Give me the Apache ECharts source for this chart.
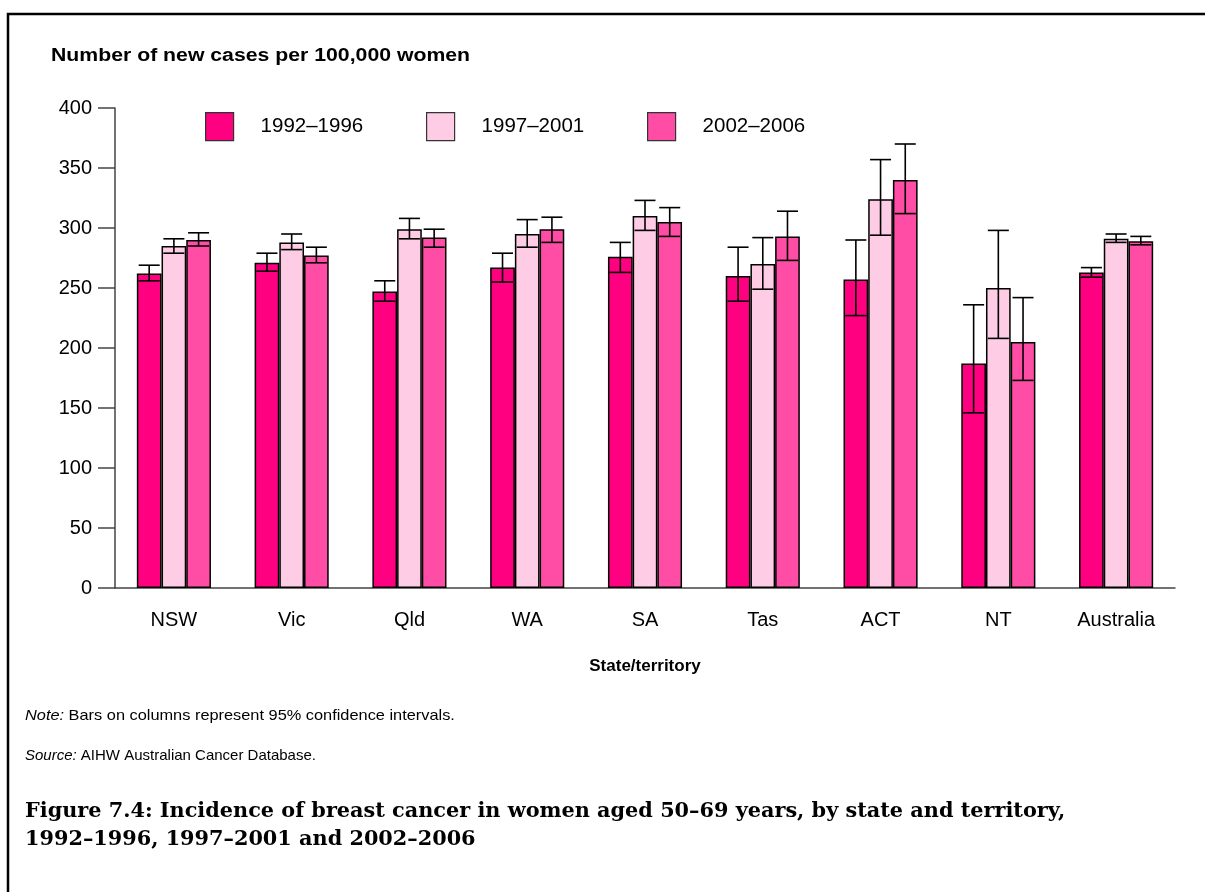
<!DOCTYPE html>
<html>
<head>
<meta charset="utf-8">
<script src="https://cdn.jsdelivr.net/npm/echarts@6/dist/echarts.min.js"></script>
<style>
  html, body { margin: 0; padding: 0; background: #fff; }
  #chart { width: 1205px; height: 892px; }
</style>
</head>
<body>
<div id="chart"></div>
<script>
// categories
var states = ['NSW', 'Vic', 'Qld', 'WA', 'SA', 'Tas', 'ACT', 'NT', 'Australia'];
var periods = ['1992\u20131996', '1997\u20132001', '2002\u20132006'];

// rates per 100,000 women
var rate1992 = [262, 271, 247, 267, 276, 260, 257, 187, 263];
var rate1997 = [285, 288, 299, 295, 310, 270, 324, 250, 291];
var rate2002 = [290, 277, 292, 299, 305, 293, 340, 205, 289];

// 95% confidence intervals
var low1992 = [256, 264, 239, 255, 263, 239, 227, 146, 259];
var high1992 = [269, 279, 256, 279, 288, 284, 290, 236, 267];
var low1997 = [279, 282, 291, 284, 298, 249, 294, 208, 288];
var high1997 = [291, 295, 308, 307, 323, 292, 357, 298, 295];
var low2002 = [285, 271, 284, 288, 293, 273, 312, 173, 286];
var high2002 = [296, 284, 299, 309, 317, 314, 370, 242, 293];

var yTicks = [0, 50, 100, 150, 200, 250, 300, 350, 400];

var colors = ['#ff0080', '#ffcce6', '#ff4da6'];
var barW = 24.7;

function ciData(low, high) {
  return low.map(function (l, i) { return [i, l, high[i]]; });
}

// error bar drawn as custom series, shifted to sit on its own bar
function errorBar(offset) {
  return function (params, api) {
    var lo = api.coord([api.value(0), api.value(1)]);
    var hi = api.coord([api.value(0), api.value(2)]);
    var x = lo[0] + offset;
    var cap = 10.5;
    var st = { stroke: '#000', lineWidth: 1.6 };
    return {
      type: 'group',
      children: [
        { type: 'line', shape: { x1: x, y1: lo[1], x2: x, y2: hi[1] }, style: st },
        { type: 'line', shape: { x1: x - cap, y1: lo[1], x2: x + cap, y2: lo[1] }, style: st },
        { type: 'line', shape: { x1: x - cap, y1: hi[1], x2: x + cap, y2: hi[1] }, style: st }
      ]
    };
  };
}

function barSeries(name, data, color) {
  return {
    name: name,
    type: 'bar',
    data: data,
    barWidth: barW,
    barGap: '0%',
    itemStyle: { color: color, borderColor: '#000', borderWidth: 1.5 },
    emphasis: { disabled: true }
  };
}

function ciSeries(low, high, offset) {
  return {
    type: 'custom',
    renderItem: errorBar(offset),
    data: ciData(low, high),
    encode: { x: 0, y: [1, 2] },
    z: 5,
    silent: true
  };
}

function legendItem(name, left) {
  return {
    data: [name],
    left: left,
    top: 112,
    padding: 0,
    itemWidth: 28,
    itemHeight: 28,
    icon: 'rect',
    selectedMode: false,
    itemStyle: { borderColor: '#333', borderWidth: 1.2 },
    textStyle: {
      fontFamily: 'Liberation Sans, Arial',
      fontSize: 20.5,
      color: '#000',
      padding: [0, 0, 0, 22]
    }
  };
}

var chart = echarts.init(document.getElementById('chart'));
chart.setOption({
  animation: false,
  backgroundColor: '#fff',
  grid: { left: 115, right: 30, top: 108, bottom: 304 },
  legend: [
    legendItem(periods[0], 205),
    legendItem(periods[1], 426),
    legendItem(periods[2], 647)
  ],
  xAxis: {
    type: 'category',
    data: states,
    axisLine: { lineStyle: { color: '#444', width: 1.5 } },
    axisTick: { alignWithLabel: true, length: 18, lineStyle: { color: '#444', width: 1.5 } },
    axisLabel: {
      margin: 22,
      fontFamily: 'Liberation Sans, Arial',
      fontSize: 20,
      color: '#000'
    },
    name: 'State/territory',
    nameLocation: 'middle',
    nameGap: 70,
    nameTextStyle: {
      fontFamily: 'Liberation Sans, Arial',
      fontSize: 17,
      fontWeight: 'bold',
      color: '#000'
    }
  },
  yAxis: {
    type: 'value',
    min: yTicks[0],
    max: yTicks[yTicks.length - 1],
    interval: yTicks[1] - yTicks[0],
    splitLine: { show: false },
    axisLine: { show: true, lineStyle: { color: '#444', width: 1.5 } },
    axisTick: { show: true, length: 17, lineStyle: { color: '#444', width: 1.5 } },
    axisLabel: {
      margin: 23,
      fontFamily: 'Liberation Sans, Arial',
      fontSize: 20,
      color: '#000'
    }
  },
  series: [
    barSeries(periods[0], rate1992, colors[0]),
    barSeries(periods[1], rate1997, colors[1]),
    barSeries(periods[2], rate2002, colors[2]),
    ciSeries(low1992, high1992, -barW),
    ciSeries(low1997, high1997, 0),
    ciSeries(low2002, high2002, barW)
  ],
  graphic: [
    {
      type: 'rect',
      shape: { x: 8, y: 14, width: 1400, height: 1000 },
      style: { fill: 'none', stroke: '#000', lineWidth: 2.5 },
      silent: true
    },
    {
      type: 'text',
      x: 51, y: 47,
      scaleX: 1.18,
      style: {
        text: 'Number of new cases per 100,000 women',
        font: 'bold 18px "Liberation Sans", Arial',
        fill: '#000'
      }
    },
    {
      type: 'text',
      x: 25, y: 708,
      scaleX: 1.09,
      style: {
        text: '{i|Note:} Bars on columns represent 95% confidence intervals.',
        font: '15px "Liberation Sans", Arial',
        fill: '#000',
        rich: { i: { fontStyle: 'italic', fontSize: 15, fontFamily: 'Liberation Sans' } }
      }
    },
    {
      type: 'text',
      x: 25, y: 748,
      style: {
        text: '{i|Source:} AIHW Australian Cancer Database.',
        font: '15px "Liberation Sans", Arial',
        fill: '#000',
        rich: { i: { fontStyle: 'italic', fontSize: 15, fontFamily: 'Liberation Sans' } }
      }
    },
    {
      type: 'text',
      x: 25, y: 798,
      style: {
        text: 'Figure 7.4: Incidence of breast cancer in women aged 50\u201369 years, by state and territory,\n1992\u20131996, 1997\u20132001 and 2002\u20132006',
        font: 'bold 20.8px "DejaVu Serif", serif',
        lineHeight: 28,
        fill: '#000'
      }
    }
  ]
});
</script>
</body>
</html>
